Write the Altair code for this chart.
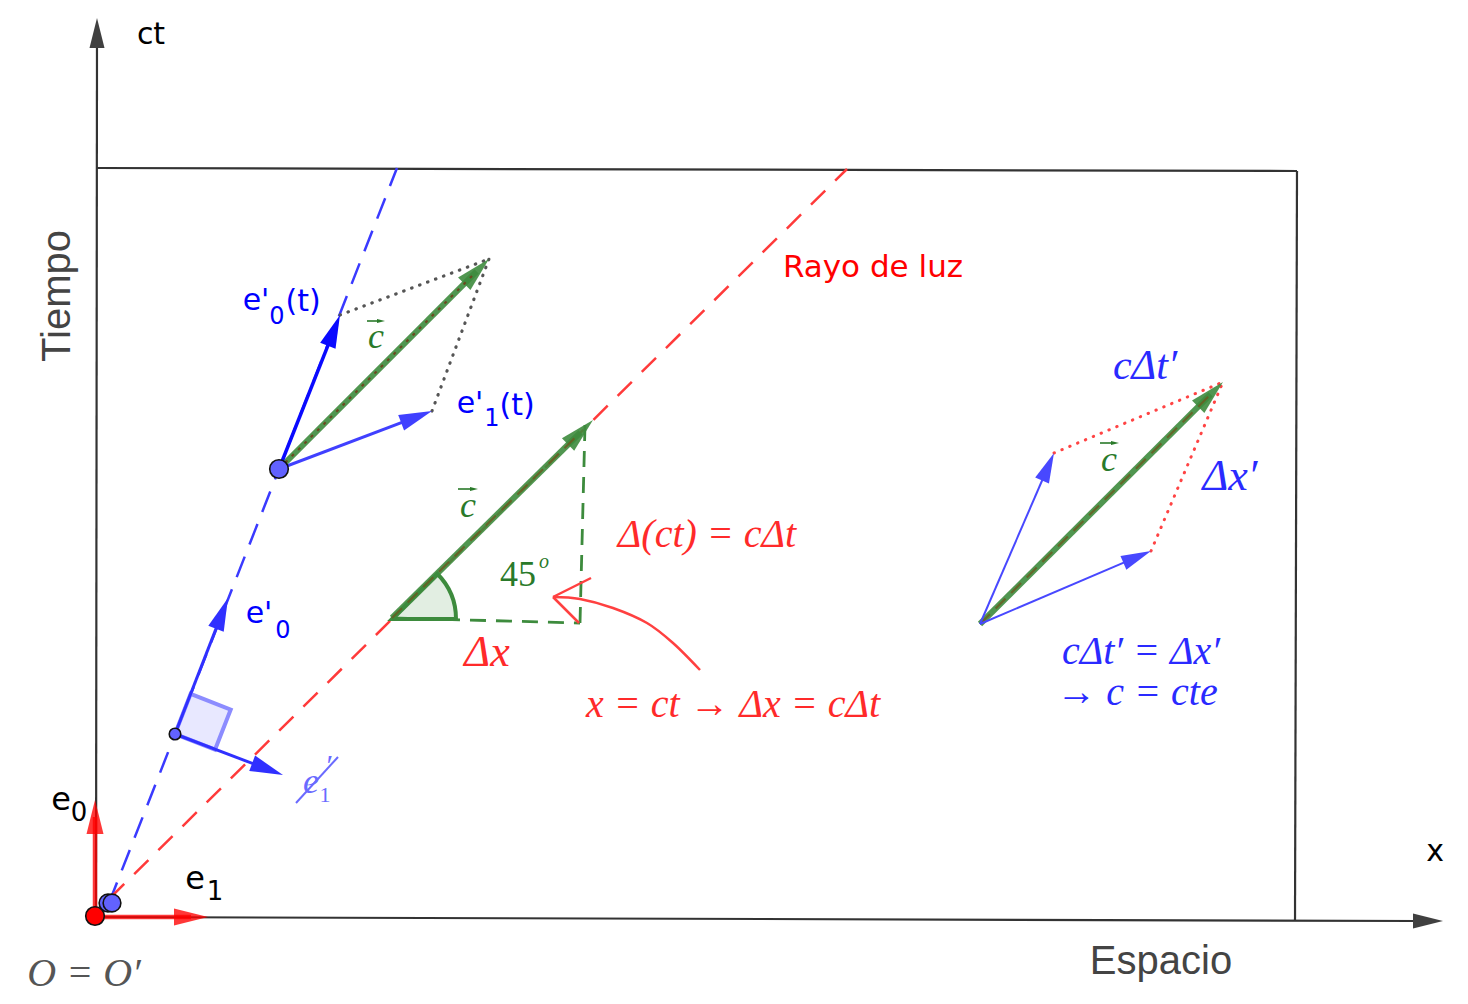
import math
import altair as alt
import pandas as pd

# ---------------- data (reference picture coordinates: x right, y down) -------------
X_DOMAIN = [8, 1460]
Y_DOMAIN = [8, 996]

# segments as (x, y, x2, y2)
axis_lines = [(96, 917, 97, 44), (95, 917, 1418, 921)]
frame_lines = [(97, 168, 1297, 171), (1297, 171, 1295, 921)]
axis_arrows = [(97, 917, 97, 18), (95, 921, 1443, 921)]

worldline_blue = [(109, 903, 397, 168)]
light_ray = [(110, 898, 847, 169)]

red_basis = [(95, 917, 95, 800), (95, 917, 208, 917)]
blue_basis_low = [(175, 734, 228, 598), (175, 734, 283, 775)]
blue_e0_t = [(279, 469, 340, 315)]
blue_e1_t = [(279, 469, 432, 411)]
blue_right = [(980, 624, 1054, 453), (980, 624, 1151, 551)]
green_c_dotted = [(279, 469, 489, 259)]
green_c_dashed = [(392, 618, 593, 420), (980, 624, 1223, 382)]
vec_c_marks = [(367, 321, 385, 321), (458, 489, 478, 489), (1100, 443, 1119, 443)]

gray_dotted = [(340, 315, 489, 259), (432, 411, 489, 259)]
red_dotted = [(1054, 453, 1223, 382), (1151, 551, 1223, 382)]
green_dashed = [(585, 425, 580, 623), (392, 618, 580, 623)]
struck_line = [(296, 803, 338, 757)]

red_curve_x = [700, 673, 647, 613, 580, 553]
red_curve_y = [670, 643, 623, 608, 599, 597]
red_hook = [(553, 597, 591, 578), (553, 597, 579, 623)]

angle_wedge = [(392, 619, 64)]            # centre x, centre y, radius
right_angle = [(175, 734, 43, 21.3)]      # corner x, corner y, side, rotation

red_points = [(95, 916, 21)]               # x, y, diameter
blue_points = [(108, 903, 20), (112, 903, 20), (279, 469, 21), (175, 734, 13)]

black_sans = [("ct", 151, 35, 30), ("x", 1435, 852, 30), ("e", 61, 800, 32),
              ("0", 79, 813, 26), ("e", 195, 879, 32), ("1", 215, 892, 26)]
blue_sans = [("e'", 259, 614, 30), ("0", 283, 631, 24),
             ("e'", 256, 301, 30), ("0", 277, 317, 24), ("(t)", 303, 302, 30),
             ("e'", 470, 404, 30), ("1", 492, 419, 24), ("(t)", 517, 406, 30)]
red_sans = [("Rayo de luz", 873, 268, 31)]
gray_sans = [("Espacio", 1161, 962, 40)]
gray_vertical = [("Tiempo", 58, 296, 40)]

RED_T = "#ff2a2a"
BLUE_T = "#2a2aff"
GREEN_T = "#2a7a2a"
LIGHT_BLUE = "#6a6aff"
serif_italic = [("Δ(ct)   =   cΔt", 707, 535, 40, RED_T), ("Δx", 487, 653, 44, RED_T),
                ("x  =  ct   →   Δx  =  cΔt", 733, 705, 40, RED_T),
                ("cΔt′", 1145, 366, 42, BLUE_T), ("Δx′", 1230, 477, 44, BLUE_T),
                ("cΔt′   =   Δx′", 1141, 652, 40, BLUE_T), ("→    c   =  cte", 1137, 693, 40, BLUE_T),
                ("c", 376, 337, 36, GREEN_T), ("c", 468, 506, 36, GREEN_T),
                ("c", 1109, 460, 36, GREEN_T), ("o", 544, 562, 20, GREEN_T),
                ("e", 311, 782, 36, LIGHT_BLUE), ("′", 328, 766, 30, LIGHT_BLUE),
                ("O = O′", 84, 974, 40, "#555555")]
serif_upright = [("45", 518, 575, 36, GREEN_T), ("1", 325, 795, 22, LIGHT_BLUE)]

# ---------------- helpers ----------------
XS = alt.Scale(domain=X_DOMAIN, nice=False, zero=False)
YS = alt.Scale(domain=Y_DOMAIN, nice=False, zero=False, reverse=True)
HEAD = "M0,0L-0.5,2L0.5,2Z"


def xy(xf="x", yf="y"):
    return dict(x=alt.X(f"{xf}:Q", scale=XS, axis=None),
                y=alt.Y(f"{yf}:Q", scale=YS, axis=None))


def rules(segs, color, width, dash=None, opacity=1.0, cap="butt"):
    df = pd.DataFrame(segs, columns=["x", "y", "x2", "y2"])
    kw = dict(color=color, strokeWidth=width, opacity=opacity, strokeCap=cap)
    if dash:
        kw["strokeDash"] = dash
    return alt.Chart(df).mark_rule(**kw).encode(**xy(), x2="x2:Q", y2="y2:Q")


def shorten(segs, length):
    out = []
    for x0, y0, x1, y1 in segs:
        d = math.hypot(x1 - x0, y1 - y0)
        f = (d - length) / d
        out.append((x0, y0, x0 + (x1 - x0) * f, y0 + (y1 - y0) * f))
    return out


def heads(segs, length, color, opacity=1.0):
    rows = []
    for x0, y0, x1, y1 in segs:
        ang = math.degrees(math.atan2(x1 - x0, -(y1 - y0))) % 360
        rows.append(dict(x=x1, y=y1, angle=ang, size=length * length))
    df = pd.DataFrame(rows)
    return alt.Chart(df).mark_point(shape=HEAD, filled=True, color=color, opacity=opacity,
                                    strokeWidth=0).encode(
        **xy(), angle=alt.Angle("angle:Q", scale=None), size=alt.Size("size:Q", scale=None))


def vectors(segs, color, width, head_len, opacity=1.0):
    return [rules(shorten(segs, head_len * 0.5), color, width, opacity=opacity),
            heads(segs, head_len, color, opacity)]


def circles(pts, fill):
    df = pd.DataFrame(pts, columns=["x", "y", "d"])
    df["size"] = [math.pi * (d / 2) ** 2 for d in df["d"]]
    return alt.Chart(df).mark_point(shape="circle", filled=True, fill=fill, stroke="#111111",
                                    strokeWidth=1.6, opacity=1).encode(
        **xy(), size=alt.Size("size:Q", scale=None))


def texts(rows, font, color=None, style="normal", angle=0, weight="normal"):
    cols = ["text", "x", "y", "size"] + (["color"] if color is None else [])
    df = pd.DataFrame(rows, columns=cols)
    kw = dict(font=font, fontStyle=style, fontWeight=weight, align="center",
              baseline="middle", angle=angle)
    if color is not None:
        kw["color"] = color
    enc = dict(**xy(), text="text:N", size=alt.Size("size:Q", scale=None))
    if color is None:
        enc["color"] = alt.Color("color:N", scale=None)
    return alt.Chart(df).mark_text(**kw).encode(**enc)


layers = []
# frame and axes
layers.append(rules(axis_lines + frame_lines, "#333333", 2.2))
layers.append(heads(axis_arrows, 30, "#404040"))

# world-line and light ray
layers.append(rules(worldline_blue, "#3a3aff", 2.5, dash=[22, 13]))
layers.append(rules(light_ray, "#ff3a3a", 2.5, dash=[20, 14]))

# 45 degree wedge
wx, wy, wr = angle_wedge[0]
wedge_df = pd.DataFrame({"x": [wx], "y": [wy], "size": [(2 * wr) ** 2]})
layers.append(alt.Chart(wedge_df).mark_point(
    shape="M0,0L1,0A1,1,0,0,0,0.7071,-0.7071Z", filled=True, fill="#e2eee2",
    stroke="#3d8b3d", strokeWidth=4, opacity=1).encode(**xy(), size=alt.Size("size:Q", scale=None)))

# right-angle marker
cx, cy, side, rot = right_angle[0]
a = math.radians(rot)
u0 = (math.sin(a), -math.cos(a))
u1 = (math.cos(a), math.sin(a))
sq_df = pd.DataFrame({"x": [cx + (u0[0] + u1[0]) * side / 2], "y": [cy + (u0[1] + u1[1]) * side / 2],
                      "size": [side * side], "angle": [rot]})
layers.append(alt.Chart(sq_df).mark_point(shape="square", filled=True, fill="#e8e8ff",
                                          stroke="#8c8cff", strokeWidth=4, opacity=1).encode(
    **xy(), size=alt.Size("size:Q", scale=None), angle=alt.Angle("angle:Q", scale=None)))

# dotted / dashed helpers
layers.append(rules(gray_dotted, "#555555", 3.2, dash=[0.5, 8], cap="round"))
layers.append(rules(red_dotted, "#ff4444", 3, dash=[0.5, 8], cap="round"))
layers.append(rules(green_dashed, "#3d8b3d", 2.8, dash=[16, 10]))

# red curved arrow
curve_df = pd.DataFrame({"x": red_curve_x, "y": red_curve_y, "o": list(range(len(red_curve_x)))})
layers.append(alt.Chart(curve_df).mark_line(color="#ff4040", strokeWidth=2.5,
                                            interpolate="cardinal").encode(**xy(), order="o:Q"))
layers.append(rules(red_hook, "#ff4040", 2.5))

# vectors
layers += vectors(green_c_dotted + green_c_dashed, "#3d8b3d", 6, 35, opacity=0.9)
layers.append(rules(shorten(green_c_dotted, 20), "#6b4a20", 2.2, dash=[3, 6]))
layers.append(rules(shorten(green_c_dashed, 20), "#6b5a20", 2.2, dash=[14, 8], opacity=0.8))
layers += vectors(red_basis, "#ff0000", 4.5, 34, opacity=0.78)
layers += vectors(blue_basis_low, "#3030ff", 3, 33)
layers += vectors(blue_e0_t, "#0a0aff", 3.5, 33)
layers += vectors(blue_e1_t, "#4040ff", 3, 33)
layers += vectors(blue_right, "#4848ff", 2, 30)
layers += vectors(vec_c_marks, GREEN_T, 1.6, 8)
layers.append(rules(struck_line, LIGHT_BLUE, 2))

# points
layers.append(circles(blue_points, "#6262ff"))
layers.append(circles(red_points, "#ff0000"))

# texts
layers.append(texts(black_sans, "DejaVu Sans", color="#000000"))
layers.append(texts(blue_sans, "DejaVu Sans", color="#0000ff"))
layers.append(texts(red_sans, "DejaVu Sans", color="#ff0000"))
layers.append(texts(gray_sans, "Liberation Sans", color="#444444"))
layers.append(texts(gray_vertical, "Liberation Sans", color="#444444", angle=270))
layers.append(texts(serif_italic, "Liberation Serif", style="italic"))
layers.append(texts(serif_upright, "Liberation Serif"))

chart = alt.layer(*layers).properties(
    width=X_DOMAIN[1] - X_DOMAIN[0], height=Y_DOMAIN[1] - Y_DOMAIN[0],
    padding=0, autosize="none"
).configure_view(stroke=None)

chart.save("out.html", embed_options={"renderer": "svg", "actions": False})
